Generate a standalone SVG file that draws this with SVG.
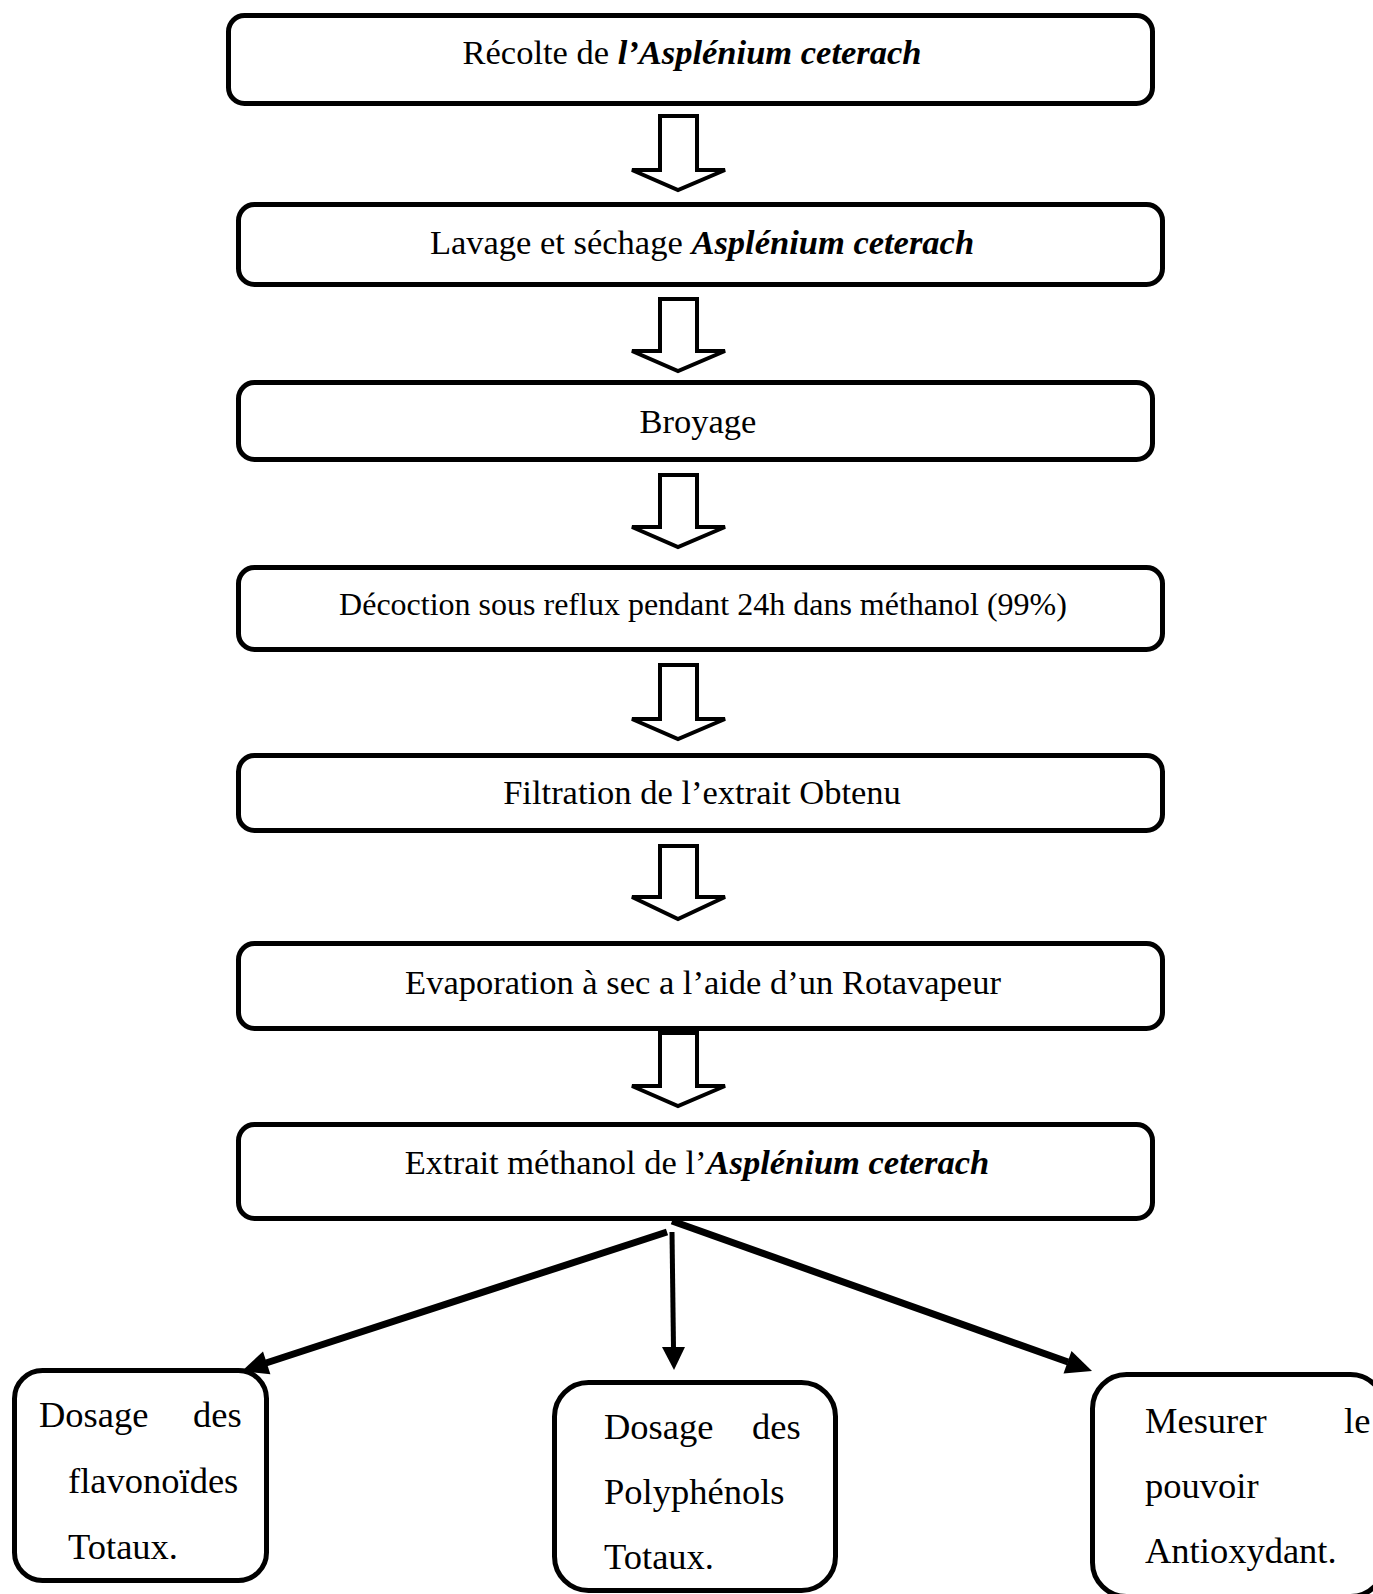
<svg xmlns="http://www.w3.org/2000/svg" width="1373" height="1594" viewBox="0 0 1373 1594">
<style>
.box{fill:#fff;stroke:#000;stroke-width:5}
.blk{fill:#fff;stroke:#000;stroke-width:4;stroke-linejoin:miter}
.t{font-family:"Liberation Serif","Times New Roman",serif;font-size:34.5px;fill:#000;text-anchor:middle}
.ts{font-size:32px}
.bi{font-weight:bold;font-style:italic}
.b{font-family:"Liberation Serif","Times New Roman",serif;font-size:36.5px;fill:#000}
.ln{stroke:#000;fill:none;stroke-linecap:butt}
.hd{fill:#000;stroke:none}
</style>
<rect width="1373" height="1594" fill="#fff"/>
<g id="connectors">
<path class="blk" d="M660,116 L697,116 L697,170 L725,170 L678,190 L632,170 L660,170 Z"/>
<path class="blk" d="M660,299 L697,299 L697,351 L725,351 L678,371 L632,351 L660,351 Z"/>
<path class="blk" d="M660,475 L697,475 L697,527 L725,527 L678,547 L632,527 L660,527 Z"/>
<path class="blk" d="M660,665 L697,665 L697,719 L725,719 L678,739 L632,719 L660,719 Z"/>
<path class="blk" d="M660,846 L697,846 L697,897 L725,897 L678,919 L632,897 L660,897 Z"/>
<path class="blk" d="M660,1033 L697,1033 L697,1086 L725,1086 L678,1106 L632,1086 L660,1086 Z"/>
<line class="ln" x1="667" y1="1232" x2="266" y2="1363" stroke-width="7"/>
<polygon class="hd" points="242,1371 270.4,1374.3 263,1351.5"/>
<line class="ln" x1="672" y1="1232" x2="673.5" y2="1348" stroke-width="5"/>
<polygon class="hd" points="662,1347 685,1347 674,1370"/>
<line class="ln" x1="672" y1="1221" x2="1068" y2="1362" stroke-width="7"/>
<polygon class="hd" points="1092,1371 1063.5,1373.6 1071.5,1351"/>
</g>
<g id="n1">
<rect class="box" x="228.5" y="15.5" width="924" height="88" rx="16"/>
<text class="t" x="692" y="64">Récolte de <tspan class="bi">l’Asplénium ceterach</tspan></text>
</g>
<g id="n2">
<rect class="box" x="238.5" y="204.5" width="924" height="80" rx="16"/>
<text class="t" x="702" y="254">Lavage et séchage <tspan class="bi">Asplénium ceterach</tspan></text>
</g>
<g id="n3">
<rect class="box" x="238.5" y="382.5" width="914" height="77" rx="16"/>
<text class="t" x="698" y="433">Broyage</text>
</g>
<g id="n4">
<rect class="box" x="238.5" y="567.5" width="924" height="82" rx="16"/>
<text class="t ts" x="703" y="615">Décoction sous reflux pendant 24h dans méthanol (99%)</text>
</g>
<g id="n5">
<rect class="box" x="238.5" y="755.5" width="924" height="75" rx="16"/>
<text class="t" x="702" y="804">Filtration de l’extrait Obtenu</text>
</g>
<g id="n6">
<rect class="box" x="238.5" y="943.5" width="924" height="85" rx="16"/>
<text class="t" x="703" y="994">Evaporation à sec a l’aide d’un Rotavapeur</text>
</g>
<g id="n7">
<rect class="box" x="238.5" y="1124.5" width="914" height="94" rx="16"/>
<text class="t" x="697" y="1174">Extrait méthanol de l’<tspan class="bi">Asplénium ceterach</tspan></text>
</g>
<g id="n8">
<rect class="box" x="14.5" y="1370.5" width="252" height="210" rx="28"/>
<text class="b" x="39" y="1427">Dosage</text>
<text class="b" x="193" y="1427">des</text>
<text class="b" x="68" y="1493">flavonoïdes</text>
<text class="b" x="68" y="1559">Totaux.</text>
</g>
<g id="n9">
<rect class="box" x="554.5" y="1382.5" width="281" height="208" rx="34"/>
<text class="b" x="604" y="1439">Dosage</text>
<text class="b" x="752" y="1439">des</text>
<text class="b" x="604" y="1504">Polyphénols</text>
<text class="b" x="604" y="1569">Totaux.</text>
</g>
<g id="n10">
<rect class="box" x="1092.5" y="1374.5" width="292" height="222" rx="34"/>
<text class="b" x="1145" y="1433">Mesurer</text>
<text class="b" x="1344" y="1433">le</text>
<text class="b" x="1145" y="1498">pouvoir</text>
<text class="b" x="1145" y="1563">Antioxydant.</text>
</g>
</svg>
